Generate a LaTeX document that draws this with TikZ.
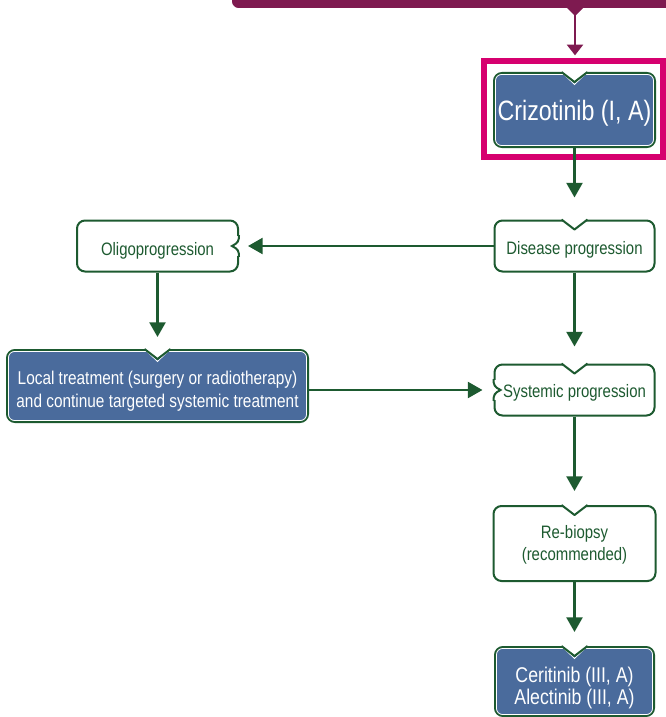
\documentclass[tikz,border=0pt]{standalone}
\usepackage{fontspec}
\setmainfont{Liberation Sans}[FakeStretch=0.83]
\usepackage{xcolor}
\usetikzlibrary{arrows.meta,calc}

\definecolor{boxblue}{HTML}{4A6B9C}
\definecolor{darkgreen}{HTML}{1D5A30}
\definecolor{barpurple}{HTML}{7E1A50}
\definecolor{hilitepink}{HTML}{D6006F}

% V notch on the top edge of a box
\newcommand{\topnotch}[1]{%
  \fill[white] ($(#1.north)+(-14,-2)$) -- ($(#1.north)+(14,-2)$) -- ($(#1.north)+(13,0)$) -- ($(#1.north)+(0,10)$) -- ($(#1.north)+(-13,0)$) -- cycle;
  \draw[white, line width=0.6pt] ($(#1.north)+(-10.5,2.5)$) -- ($(#1.north)+(0,12.5)$) -- ($(#1.north)+(10.5,2.5)$);
  \draw[darkgreen, line width=1.5pt, line join=round] ($(#1.north)+(-13,0)$) -- ($(#1.north)+(0,10)$) -- ($(#1.north)+(13,0)$);
}
% curly notch on a side edge (#2 = 1 points right, -1 points left)
\newcommand{\sidenotch}[2]{%
  \fill[white] ($(#1)+(-2,-10)$) rectangle ($(#1)+(2,10)$);
  \draw[darkgreen, line width=1.5pt] ($(#1)+(0,-11)$) .. controls ($(#1)+(0,-5)$) and ($(#1)+(1*#2,-3)$) .. ($(#1)+(7*#2,0)$) .. controls ($(#1)+(1*#2,3)$) and ($(#1)+(0,5)$) .. ($(#1)+(0,11)$);
}
% thin light line inside a blue box
\newcommand{\innerline}[1]{%
  \draw[white, line width=0.6pt, rounded corners=4.5pt] ($(#1.north west)+(2.5,2.5)$) rectangle ($(#1.south east)+(-2.5,-2.5)$);
}

\tikzset{
  whitebox/.style={draw=darkgreen, line width=1.5pt, fill=white, rounded corners=6pt, inner sep=0pt},
  bluebox/.style={whitebox, fill=boxblue},
  greentext/.style={inner sep=0pt, align=center, text=darkgreen, font=\fontsize{13.5}{17}\selectfont},
  whitetext/.style={greentext, text=white},
  arr/.style={draw=darkgreen, line width=1.8pt, -{Triangle[width=12pt,length=11pt]}},
  purplearr/.style={draw=barpurple, line width=1.6pt, -{Triangle[width=12pt,length=8pt]}},
}

\begin{document}
\begin{tikzpicture}[x=0.75pt,y=0.75pt,yscale=-1,xscale=1]
\clip (0,0) rectangle (666,717);

%Top bar with notch
\fill[barpurple, rounded corners=5] (232,-20) rectangle (700,8);
\fill[barpurple] (566,7) -- (584,7) -- (575,16) -- cycle;
\coordinate (barnotch) at (575,14);

%Boxes
\node[bluebox, minimum width=120.75pt, minimum height=55.5pt] (criz) at (574.5,110) {};
\node[whitebox, minimum width=120pt, minimum height=38.25pt] (dis) at (574.5,246) {};
\node[whitebox, minimum width=120.75pt, minimum height=38.25pt] (oligo) at (157.5,246) {};
\node[bluebox, minimum width=225.75pt, minimum height=54pt] (local) at (157.5,386) {};
\node[whitebox, minimum width=120pt, minimum height=38.25pt] (sys) at (574.5,390) {};
\node[whitebox, minimum width=121.5pt, minimum height=56.25pt] (rebio) at (574.5,543.5) {};
\node[bluebox, minimum width=119.25pt, minimum height=51.75pt] (cerit) at (574.5,681.5) {};

\innerline{criz}
\innerline{local}
\innerline{cerit}

\topnotch{criz}
\topnotch{dis}
\topnotch{local}
\topnotch{sys}
\topnotch{rebio}
\topnotch{cerit}
\sidenotch{oligo.east}{-1}
\sidenotch{sys.west}{1}

% Text Nodes
\node[whitetext, font=\fontsize{21}{24}\selectfont] (criz-t) at ($(criz)+(0,3)$) {Crizotinib (I, A)};
\node[greentext] (dis-t) at ($(dis)+(0,4)$) {Disease progression};
\node[greentext] (oligo-t) at ($(oligo)+(0,4.5)$) {Oligoprogression};
\node[whitetext, font=\fontsize{13.9}{17.3}\selectfont] (local-t) at ($(local)+(0,5)$) {Local treatment (surgery or radiotherapy)\\and continue targeted systemic treatment};
\node[greentext] (sys-t) at ($(sys)+(0,3)$) {Systemic progression};
\node[greentext] (rebio-t) at ($(rebio)+(0,1.5)$) {Re-biopsy\\(recommended)};
\node[whitetext, font=\fontsize{16}{16.2}\selectfont] (cerit-t) at ($(cerit)+(0,6.5)$) {Ceritinib (III, A)\\Alectinib (III, A)};

%Highlight frame
\node[draw=hilitepink, line width=4.5pt, minimum width=134.25pt, minimum height=72pt, inner sep=0pt] (hilite) at (573.5,109) {};

%Arrows
\draw[purplearr, shorten >=2pt] (barnotch) -- (barnotch |- hilite.north);
\draw[arr, shorten >=16.5pt] (criz) -- (dis);
\draw[arr, shorten >=6.75pt] (dis) -- (oligo);
\draw[arr, shorten >=12.75pt] (dis) -- (sys);
\draw[arr, shorten >=9pt] (oligo) -- (local);
\draw[arr, shorten >=8.25pt] (local.east |- sys.west) -- (sys.west);
\draw[arr, shorten >=10.5pt] (sys) -- (rebio);
\draw[arr, shorten >=10.5pt] (rebio) -- (cerit);

\end{tikzpicture}
\end{document}
